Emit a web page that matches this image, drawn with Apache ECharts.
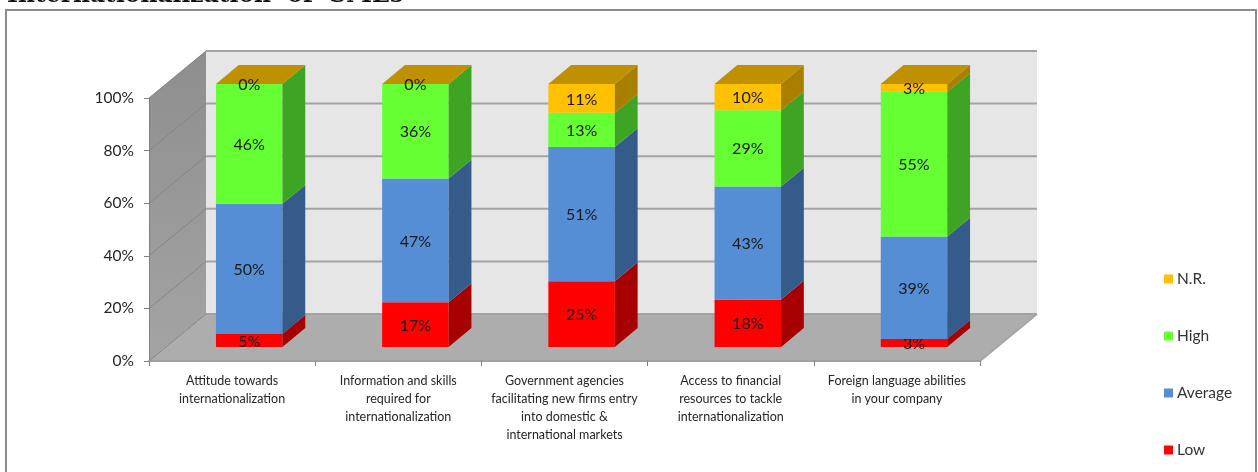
<!DOCTYPE html>
<html><head><meta charset="utf-8">
<style>html,body{margin:0;padding:0;background:#fff}#c{width:1258px;height:472px}</style>
<script src="https://cdn.jsdelivr.net/npm/echarts@6/dist/echarts.min.js"></script>
</head><body><div id="c"></div>
<script>
var titleText = 'Internationalization  of  SMEs';
var categories = [
  'Attitude towards\ninternationalization',
  'Information and skills\nrequired for\ninternationalization',
  'Government agencies\nfacilitating new firms entry\ninto domestic &\ninternational markets',
  'Access to financial\nresources to tackle\ninternationalization',
  'Foreign language abilities\nin your company'
];
var low = [5, 17, 25, 18, 3];
var average = [50, 47, 51, 43, 39];
var high = [46, 36, 13, 29, 55];
var nr = [0, 0, 11, 10, 3];
var yTicks = [0, 20, 40, 60, 80, 100];

var stacks = [low, average, high, nr];
var names = ['Low', 'Average', 'High', 'N.R.'];
var faceColors = ['#ff0000', '#558ed5', '#66ff33', '#ffc000'];
var sideColors = ['#a60000', '#355b8a', '#3fa323', '#a87f00'];
var capColor = '#bf9000';
var DX = 57, DY = 47, FRONT = 0.3, DEPTH = 0.4, BAR = 0.4;

function share(level, cat) {
  var sum = 0, below = 0;
  stacks.forEach(function (s, i) { sum += s[cat]; if (i < level) below += s[cat]; });
  return [below / sum * 100, (below + stacks[level][cat]) / sum * 100];
}
function poly(points, fill, z2) {
  return { type: 'polygon', shape: { points: points }, style: { fill: fill }, z2: z2 || 0 };
}
function line(a, b, color, w) {
  return { type: 'line', shape: { x1: a[0], y1: a[1], x2: b[0], y2: b[1] },
    style: { stroke: color, lineWidth: w }, z2: 3 };
}
function renderWalls(params, api) {
  var o = api.coord([0, 0]), t = api.coord([0, 100]);
  var r = api.coord([categories.length - 1, 0])[0] + api.size([1, 0])[0] / 2;
  var l = o[0] - api.size([1, 0])[0] / 2;
  var kids = [
    poly([[l, o[1]], [l + DX, o[1] - DY], [l + DX, t[1] - DY], [l, t[1]]], {
      type: 'linear', x: 0, y: 0, x2: 0, y2: 1,
      colorStops: [{ offset: 0, color: '#8e8e8e' }, { offset: 1, color: '#a4a4a4' }]
    }),
    poly([[l + DX, o[1] - DY], [r + DX, o[1] - DY], [r + DX, t[1] - DY], [l + DX, t[1] - DY]], '#e6e6e6'),
    poly([[l, o[1]], [r, o[1]], [r + DX, o[1] - DY], [l + DX, o[1] - DY]], '#adadad')
  ];
  yTicks.forEach(function (v) {
    var y = api.coord([0, v])[1];
    kids.push(line([l, y], [l + DX, y - DY], '#858585', 1));
    kids.push(line([l + DX, y - DY], [r + DX, y - DY], '#a3a3a3', 2));
  });
  kids.push(line([r, o[1]], [r + DX, o[1] - DY], '#a6a6a6', 2));
  return { type: 'group', children: kids };
}
function renderLevel(level) {
  return function (params, api) {
    var cat = api.value(0), val = api.value(1);
    var range = share(level, cat);
    var band = api.size([1, 0])[0];
    var c = api.coord([cat, 0])[0];
    var shiftX = DX * FRONT, shiftY = DY * FRONT;
    var dx = DX * DEPTH, dy = DY * DEPTH;
    var w = band * BAR;
    var x0 = c + shiftX - w / 2, x1 = x0 + w;
    var y0 = api.coord([0, range[0]])[1] - shiftY;
    var y1 = api.coord([0, range[1]])[1] - shiftY;
    var kids = [];
    if (val > 0) {
      kids.push(poly([[x0, y0], [x1, y0], [x1, y1], [x0, y1]], faceColors[level]));
      kids.push(poly([[x1, y0], [x1 + dx, y0 - dy], [x1 + dx, y1 - dy], [x1, y1]], sideColors[level]));
    }
    if (level === stacks.length - 1) {
      kids.push(poly([[x0, y1], [x1, y1], [x1 + dx, y1 - dy], [x0 + dx, y1 - dy]], capColor));
    }
    kids.push({
      type: 'text', z2: 10,
      style: {
        x: (x0 + x1) / 2, y: (y0 + y1) / 2 + 1, text: val + '%',
        align: 'center', verticalAlign: 'middle',
        font: '16px Lato, sans-serif', fill: '#1a1a1a'
      }
    });
    return { type: 'group', children: kids };
  };
}

var series = [{
  type: 'custom', name: 'walls', z: 1, silent: true,
  coordinateSystem: 'cartesian2d', data: [[0, 0]], renderItem: renderWalls,
  clip: false
}];
stacks.forEach(function (values, level) {
  series.push({
    type: 'custom', name: names[level], z: 2 + level,
    coordinateSystem: 'cartesian2d', clip: false,
    itemStyle: { color: faceColors[level] },
    data: values.map(function (v, i) { return [i, v]; }),
    encode: { x: 0, y: 1 },
    renderItem: renderLevel(level)
  });
});

var chart = echarts.init(document.getElementById('c'));
chart.setOption({
  animation: false,
  backgroundColor: '#ffffff',
  title: {
    text: titleText, left: 2, top: -21,
    textStyle: { fontFamily: '"DejaVu Serif"', fontWeight: 'bold', fontSize: 23.4, color: '#111111' }
  },
  graphic: [{
    type: 'rect', z: -1, silent: true,
    shape: { x: 6, y: 10, width: 1250, height: 480 },
    style: { fill: '#ffffff', stroke: '#8c8c8c', lineWidth: 2 }
  }],
  legend: {
    orient: 'vertical', left: 1159, top: 266, itemGap: 41,
    itemWidth: 9, itemHeight: 9, icon: 'rect',
    data: names.slice().reverse(),
    textStyle: { fontFamily: 'Lato', fontSize: 15.5, color: '#333333', padding: [0, 0, 0, -1] }
  },
  grid: { left: 149, top: 98, width: 831, height: 263, containLabel: false },
  xAxis: {
    type: 'category', data: categories, z: 6,
    axisLine: { lineStyle: { color: '#a0a0a0', width: 2 } },
    axisTick: { show: true, length: 5, lineStyle: { color: '#808080' } },
    axisLabel: {
      interval: 0, margin: 11, color: '#262626', fontFamily: 'Lato', fontSize: 12.5, lineHeight: 18
    }
  },
  yAxis: {
    type: 'value', min: 0, max: 100, interval: 20, z: 6,
    splitLine: { show: false },
    axisLine: { show: true, lineStyle: { color: '#808080', width: 1 } },
    axisTick: { show: true, length: 5, lineStyle: { color: '#808080' } },
    axisLabel: { margin: 15, color: '#262626', fontFamily: 'Lato', fontSize: 15.5,
      padding: [6, 0, 0, 0],
      formatter: function (v) { return v + '%'; } }
  },
  series: series
});
</script></body></html>
